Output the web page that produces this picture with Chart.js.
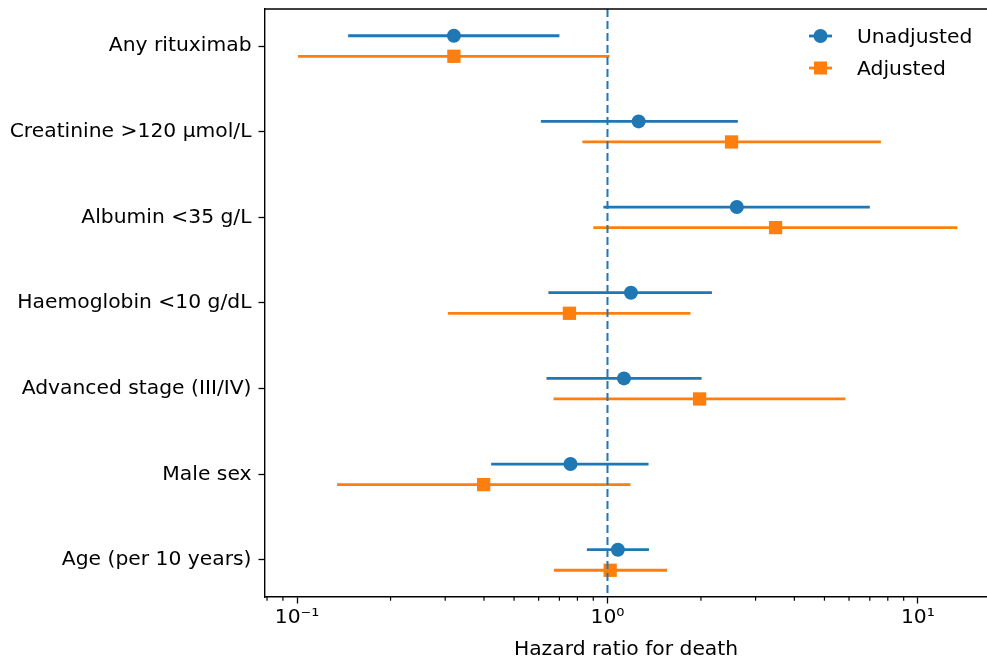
<!DOCTYPE html>
<html>
<head>
<meta charset="utf-8">
<script src="https://cdn.jsdelivr.net/npm/chart.js@4.4.0/dist/chart.umd.min.js"></script>
<style>
  html, body { margin: 0; padding: 0; background: #fff; }
</style>
</head>
<body>
<canvas id="chart" width="987" height="662"></canvas>
<script>
// Data (hazard ratios with 95% CI)
const categories = ['Any rituximab', 'Creatinine >120 µmol/L', 'Albumin <35 g/L', 'Haemoglobin <10 g/dL',
    'Advanced stage (III/IV)', 'Male sex', 'Age (per 10 years)'];
const unadjHR   = [0.32, 1.26, 2.61, 1.19, 1.13, 0.76, 1.08];
const unadjLow  = [0.146, 0.61, 0.97, 0.645, 0.636, 0.422, 0.858];
const unadjHigh = [0.70, 2.63, 7.0, 2.17, 2.01, 1.356, 1.36];
const adjHR     = [0.32, 2.51, 3.48, 0.754, 1.98, 0.399, 1.02];
const adjLow    = [0.1007, 0.83, 0.90, 0.306, 0.67, 0.1345, 0.672];
const adjHigh   = [1.015, 7.6, 13.4, 1.85, 5.84, 1.186, 1.556];
const seriesNames = ['Unadjusted', 'Adjusted'];
const majorTicks = [0.1, 1, 10];
const majorLabels = ['10⁻¹', '10⁰', '10¹'];
const minorTicks = [0.08, 0.09, 0.2, 0.3, 0.4, 0.5, 0.6, 0.7, 0.8, 0.9, 2, 3, 4, 5, 6, 7, 8, 9];
const refLine = 1;

const BLUE = '#1f77b4';
const ORANGE = '#ff7f0e';
const FONT = 'DejaVu Sans';
const FSIZE = 20.3;
const OFFSET = 0.12;

// build point and error-bar data
function points(hr, shift) {
    return hr.map((v, i) => ({ x: v, y: i + shift }));
}
function bars(lo, hi, shift) {
    const out = [];
    lo.forEach((v, i) => {
        out.push({ x: v, y: i + shift });
        out.push({ x: hi[i], y: i + shift });
        out.push({ x: hi[i], y: null });
    });
    return out;
}

// top spine, minor x ticks, reference line and legend
const extras = {
    id: 'extras',
    afterDatasetsDraw(chart) {
        const { ctx, chartArea } = chart;
        const xs = chart.scales.x;
        ctx.save();
        // dashed reference line at HR = 1
        const rx = xs.getPixelForValue(refLine);
        ctx.strokeStyle = BLUE;
        ctx.lineWidth = 2;
        ctx.setLineDash([8, 4]);
        ctx.beginPath();
        ctx.moveTo(rx, chartArea.top);
        ctx.lineTo(rx, chartArea.bottom);
        ctx.stroke();
        ctx.setLineDash([]);
        // top spine
        ctx.strokeStyle = '#000';
        ctx.lineWidth = 1.4;
        ctx.beginPath();
        ctx.moveTo(chartArea.left, chartArea.top);
        ctx.lineTo(chartArea.right, chartArea.top);
        ctx.stroke();
        // minor ticks
        ctx.lineWidth = 1.2;
        minorTicks.forEach(v => {
            const px = xs.getPixelForValue(v);
            if (px < chartArea.left) return;
            ctx.beginPath();
            ctx.moveTo(px, chartArea.bottom);
            ctx.lineTo(px, chartArea.bottom + 3.7);
            ctx.stroke();
        });
        // legend
        const rows = [{ color: BLUE, style: 'circle', y: 36 }, { color: ORANGE, style: 'rect', y: 68 }];
        rows.forEach((r, i) => {
            ctx.strokeStyle = r.color;
            ctx.lineWidth = 2.8;
            ctx.beginPath();
            ctx.moveTo(809, r.y);
            ctx.lineTo(832, r.y);
            ctx.stroke();
            ctx.fillStyle = r.color;
            if (r.style === 'circle') {
                ctx.beginPath();
                ctx.arc(820.5, r.y, 7, 0, Math.PI * 2);
                ctx.fill();
            } else {
                ctx.fillRect(814, r.y - 6.5, 13, 13);
            }
            ctx.fillStyle = '#000';
            ctx.font = FSIZE + 'px "' + FONT + '"';
            ctx.textBaseline = 'middle';
            ctx.textAlign = 'left';
            ctx.fillText(seriesNames[i], 857, r.y + 2);
        });
        ctx.restore();
    }
};

const ctx = document.getElementById('chart').getContext('2d');
const chart = new Chart(ctx, {
    type: 'scatter',
    data: {
        datasets: [
            {
                label: seriesNames[0],
                data: points(unadjHR, -OFFSET),
                pointStyle: 'circle',
                pointRadius: 7,
                backgroundColor: BLUE,
                borderColor: BLUE,
                borderWidth: 0
            },
            {
                label: seriesNames[1],
                data: points(adjHR, OFFSET),
                pointStyle: 'rect',
                pointRadius: 9.4,
                backgroundColor: ORANGE,
                borderColor: ORANGE,
                borderWidth: 0
            },
            {
                type: 'line',
                data: bars(unadjLow, unadjHigh, -OFFSET),
                borderColor: BLUE,
                borderWidth: 2.8,
                pointRadius: 0,
                spanGaps: false,
                fill: false
            },
            {
                type: 'line',
                data: bars(adjLow, adjHigh, OFFSET),
                borderColor: ORANGE,
                borderWidth: 2.8,
                pointRadius: 0,
                spanGaps: false,
                fill: false
            }
        ]
    },
    options: {
        responsive: false,
        animation: false,
        devicePixelRatio: 1,
        layout: { autoPadding: false, padding: { left: 0, right: 0, top: 9, bottom: 0 } },
        plugins: { legend: { display: false }, tooltip: { enabled: false } },
        scales: {
            x: {
                type: 'logarithmic',
                position: 'bottom',
                min: 0.0788,
                max: 16.7,
                afterBuildTicks: s => { s.ticks = majorTicks.map(v => ({ value: v })); },
                afterFit: s => { s.height = 65; s.paddingLeft = 0; s.paddingRight = 0; },
                ticks: {
                    autoSkip: false,
                    maxRotation: 0,
                    padding: 2,
                    color: '#000',
                    font: { family: FONT, size: FSIZE },
                    callback: (v, i) => majorLabels[i]
                },
                grid: { drawOnChartArea: false, drawTicks: true, tickLength: 6.5, tickColor: '#000', tickWidth: 1.3 },
                border: { display: true, color: '#000', width: 1.4 },
                title: {
                    display: true,
                    text: 'Hazard ratio for death',
                    color: '#000',
                    font: { family: FONT, size: FSIZE },
                    padding: { top: 0, bottom: 0 }
                }
            },
            y: {
                type: 'linear',
                reverse: true,
                min: -0.432,
                max: 6.432,
                afterBuildTicks: s => { s.ticks = categories.map((c, i) => ({ value: i })); },
                afterFit: s => { s.width = 265; s.paddingTop = 0; s.paddingBottom = 0; },
                ticks: {
                    autoSkip: false,
                    padding: 7,
                    color: '#000',
                    font: { family: FONT, size: FSIZE },
                    callback: v => categories[v]
                },
                grid: { drawOnChartArea: false, drawTicks: true, tickLength: 6.5, tickColor: '#000', tickWidth: 1.3 },
                border: { display: true, color: '#000', width: 1.4 }
            }
        }
    },
    plugins: [extras]
});
</script>
</body>
</html>
